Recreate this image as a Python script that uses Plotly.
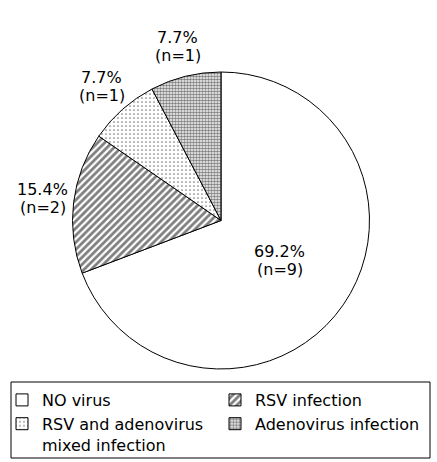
import math
import plotly.graph_objects as go

# ---- data ----
labels = ["NO virus", "RSV infection", "RSV and adenovirus<br>mixed infection", "Adenovirus infection"]
counts = [9, 2, 1, 1]
label_placement = ["inside", "outside", "outside", "outside"]

# ---- styles ----
shapes = ["", "/", ".", "."]
pattern_sizes = [8, 5, 4, 3]
pattern_solidity = [0.3, 0.55, 0.15, 0.6]

W, H = 437, 462
cx, cy, r = 221, 220.5, 148.5
FONT = "DejaVu Sans, Verdana, sans-serif"
FS = 16

fig = go.Figure(go.Pie(
    labels=labels,
    values=counts,
    sort=False,
    direction="clockwise",
    rotation=0,
    textinfo="none",
    marker=dict(
        colors=["white"] * len(counts),
        line=dict(color="black", width=1),
        pattern=dict(shape=shapes, fgcolor="black", bgcolor="white",
                     size=pattern_sizes, solidity=pattern_solidity, fillmode="overlay"),
    ),
    domain=dict(x=[(cx - r) / W, (cx + r) / W], y=[(H - cy - r) / H, (H - cy + r) / H]),
    showlegend=True,
    hoverinfo="skip",
))

# slice labels, positioned from the data (mid-angle of each slice)
total = sum(counts)
cum = 0
annotations = []
for v, place in zip(counts, label_placement):
    mid = 2 * math.pi * (cum + v / 2) / total  # clockwise from 12 o'clock
    cum += v
    rf = 0.48 if place == "inside" else 1.21
    px = cx + rf * r * math.sin(mid)
    py = cy - rf * r * math.cos(mid)
    for txt, shift in ((f"{100 * v / total:.1f}%", 9), (f"(n={v})", -9)):
        annotations.append(dict(
            x=px / W, y=(H - py) / H, xref="paper", yref="paper",
            text=txt, showarrow=False, xanchor="center", yanchor="middle",
            yshift=shift, font=dict(family=FONT, size=FS, color="black"),
        ))

# legend frame
box = dict(x0=11, y0=382, x1=430, y1=458)

fig.update_layout(
    width=W, height=H,
    margin=dict(l=0, r=0, t=0, b=0, autoexpand=False),
    paper_bgcolor="white",
    plot_bgcolor="white",
    font=dict(family=FONT, size=FS, color="black"),
    annotations=annotations,
    shapes=[dict(type="rect", xref="paper", yref="paper",
                 x0=box["x0"] / W, x1=box["x1"] / W,
                 y0=1 - box["y1"] / H, y1=1 - box["y0"] / H,
                 line=dict(color="black", width=1), fillcolor="rgba(0,0,0,0)",
                 layer="above")],
    legend=dict(
        orientation="h",
        x=2 / W, xanchor="left",
        y=1 - 383 / H, yanchor="top",
        bgcolor="rgba(0,0,0,0)",
        borderwidth=0,
        entrywidth=168, entrywidthmode="pixels",
        traceorder="normal",
        valign="top",
        font=dict(family=FONT, size=FS),
        itemclick=False,
    ),
)

fig.write_html("out.html", config={"displayModeBar": False},
               post_script="document.body.style.margin='0';")
